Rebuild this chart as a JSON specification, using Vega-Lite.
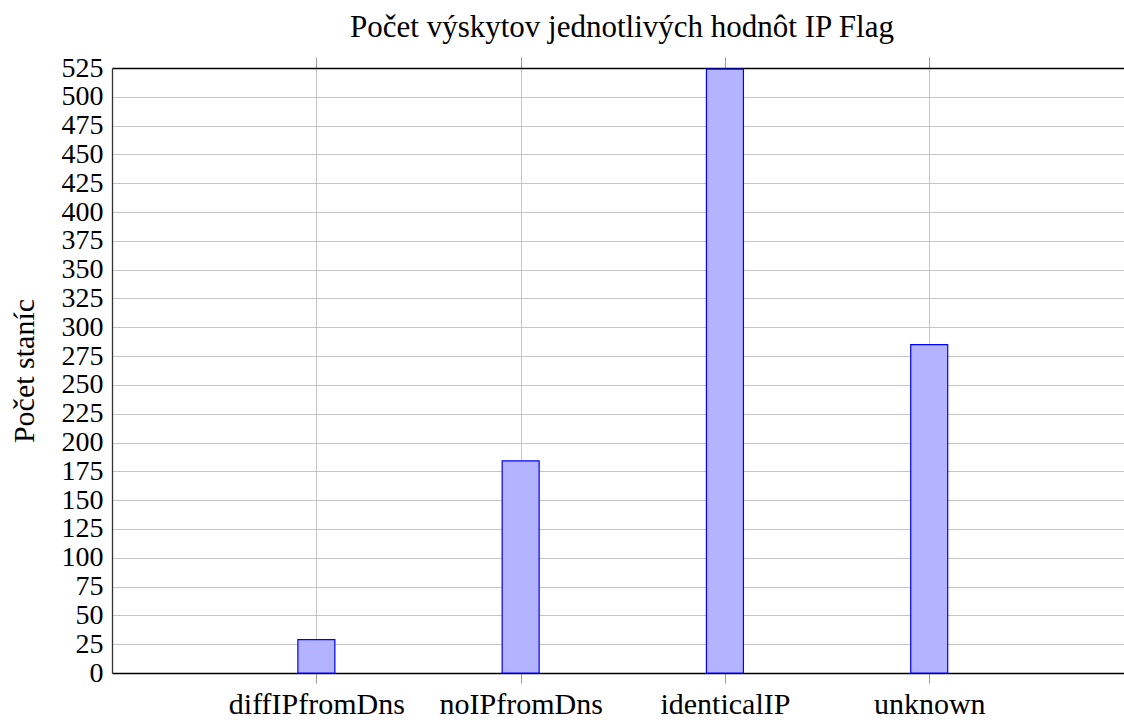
{
  "$schema": "https://vega.github.io/schema/vega-lite/v6.json",
  "autosize": "none",
  "width": 1012,
  "height": 605,
  "padding": {"left": 112, "top": 68, "right": 0, "bottom": 47},
  "background": "white",
  "config": {
    "view": {"stroke": null},
    "font": "Liberation Serif",
    "axis": {
      "labelFont": "Liberation Serif",
      "titleFont": "Liberation Serif",
      "labelColor": "black",
      "titleColor": "black",
      "titleFontWeight": "normal",
      "labelOverlap": false,
      "labelFlush": false,
      "labelLimit": 0
    }
  },
  "title": {
    "text": "Počet výskytov jednotlivých hodnôt IP Flag",
    "font": "Liberation Serif",
    "fontSize": 31,
    "fontWeight": "normal",
    "color": "black",
    "anchor": "middle",
    "dx": 4,
    "offset": 10
  },
  "data": {
    "values": [
      {"flag": "diffIPfromDns", "count": 29},
      {"flag": "noIPfromDns", "count": 184},
      {"flag": "identicalIP", "count": 524},
      {"flag": "unknown", "count": 285}
    ]
  },
  "layer": [
    {
      "mark": {"type": "bar", "width": 37, "fill": "#b3b3ff", "stroke": "#0000ff", "strokeWidth": 1.2},
      "encoding": {
        "x": {
          "field": "flag",
          "type": "nominal",
          "sort": ["diffIPfromDns", "noIPfromDns", "identicalIP", "unknown"],
          "scale": {"type": "point", "padding": 0.977, "align": 0.512},
          "axis": {
            "orient": "bottom",
            "title": null,
            "labelAngle": 0,
            "labelFontSize": 30,
            "labelPadding": 6,
            "tickSize": 10,
            "tickColor": "#999999",
            "tickWidth": 1,
            "domainColor": "black",
            "domainWidth": 1.3,
            "grid": true,
            "gridColor": "#c4c4c4",
            "gridWidth": 1
          }
        },
        "y": {
          "field": "count",
          "type": "quantitative",
          "scale": {"domain": [0, 525], "nice": false},
          "axis": {
            "title": "Počet staníc",
            "titleFontSize": 30,
            "titlePadding": 22,
            "labelFontSize": 28,
            "labelPadding": 9,
            "ticks": false,
            "values": [0,25,50,75,100,125,150,175,200,225,250,275,300,325,350,375,400,425,450,475,500,525],
            "domainColor": "#333333",
            "domainWidth": 1.3,
            "grid": true,
            "gridColor": "#c4c4c4",
            "gridWidth": 1,
            "labelBaseline": "middle"
          }
        }
      }
    },
    {
      "mark": {"type": "rule", "opacity": 0},
      "encoding": {
        "x": {
          "field": "flag",
          "type": "nominal",
          "sort": ["diffIPfromDns", "noIPfromDns", "identicalIP", "unknown"],
          "axis": {
            "orient": "top",
            "title": null,
            "labels": false,
            "tickSize": 11,
            "tickColor": "#999999",
            "domainColor": "black",
            "domainWidth": 1.3,
            "grid": false
          }
        }
      }
    }
  ],
  "resolve": {"axis": {"x": "independent"}}
}
